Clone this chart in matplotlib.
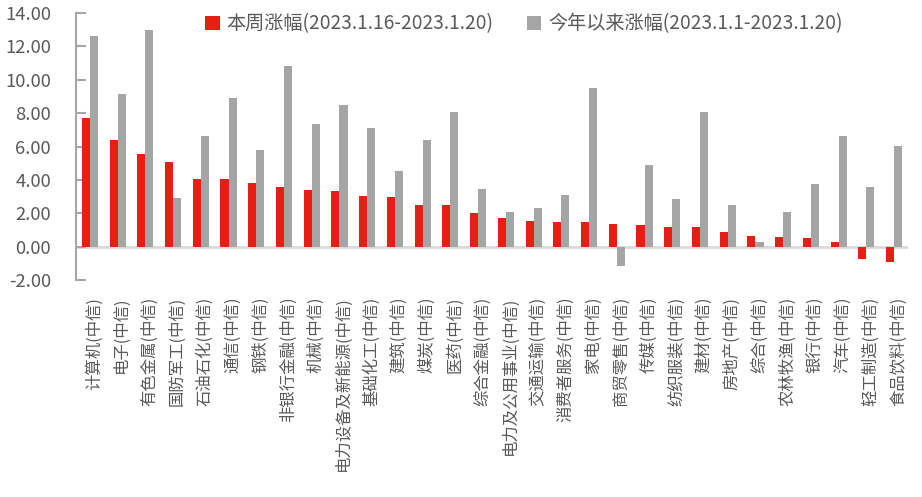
import matplotlib
matplotlib.use("Agg")
import matplotlib.pyplot as plt
import matplotlib.transforms as mtransforms
import numpy as np

plt.rcParams['font.family'] = ['Noto Sans CJK SC', 'DejaVu Sans']

categories = ["计算机(中信)", "电子(中信)", "有色金属(中信)", "国防军工(中信)", "石油石化(中信)",
              "通信(中信)", "钢铁(中信)", "非银行金融(中信)", "机械(中信)", "电力设备及新能源(中信)",
              "基础化工(中信)", "建筑(中信)", "煤炭(中信)", "医药(中信)", "综合金融(中信)",
              "电力及公用事业(中信)", "交通运输(中信)", "消费者服务(中信)", "家电(中信)", "商贸零售(中信)",
              "传媒(中信)", "纺织服装(中信)", "建材(中信)", "房地产(中信)", "综合(中信)",
              "农林牧渔(中信)", "银行(中信)", "汽车(中信)", "轻工制造(中信)", "食品饮料(中信)"]

week_change = [7.73, 6.40, 5.55, 5.07, 4.04, 4.04, 3.80, 3.56, 3.38, 3.32,
               3.02, 2.96, 2.47, 2.47, 1.99, 1.69, 1.51, 1.45, 1.45, 1.33,
               1.27, 1.15, 1.15, 0.85, 0.66, 0.60, 0.54, 0.28, -0.74, -0.92]

ytd_change = [12.62, 9.17, 12.98, 2.90, 6.64, 8.93, 5.79, 10.80, 7.36, 8.51,
              7.12, 4.53, 6.40, 8.09, 3.44, 2.05, 2.29, 3.08, 9.48, -1.17,
              4.89, 2.84, 8.09, 2.47, 0.30, 2.05, 3.74, 6.64, 3.56, 6.04]

series_names = ["本周涨幅(2023.1.16-2023.1.20)", "今年以来涨幅(2023.1.1-2023.1.20)"]
yticks = [-2, 0, 2, 4, 6, 8, 10, 12, 14]

red = "#E61E14"
gray = "#A5A5A5"
textc = "#595959"

fig = plt.figure(figsize=(9.22, 4.97), dpi=100)
ax = fig.add_axes([76/922, 1-280/497, (908-76)/922, (280-13)/497])

x = np.arange(len(categories))
w = 0.29
b1 = ax.bar(x - w/2, week_change, width=w, color=red, label=series_names[0], zorder=2)
b2 = ax.bar(x + w/2, ytd_change, width=w, color=gray, label=series_names[1], zorder=2)

ax.set_xlim(-0.5, len(categories) - 0.5)
ax.set_ylim(-2, 14)
ax.set_yticks(yticks)
ax.set_yticklabels([f"{v:.2f}" for v in yticks], fontsize=13.3, color=textc)
ax.axhline(0, color="#D9D9D9", lw=2, zorder=1)

for s in ["top", "right", "bottom"]:
    ax.spines[s].set_visible(False)
ax.spines["left"].set_color("#A6A6A6")
ax.spines["left"].set_linewidth(1.5)
ax.tick_params(axis="y", direction="in", length=7, width=1.5, color="#A6A6A6", pad=18)

ax.set_xticks(x)
ax.set_xticklabels(categories, rotation=90, fontsize=11.8, color=textc, va="top", ha="center")
ax.tick_params(axis="x", length=0, pad=12)
offset = mtransforms.ScaledTranslation(4/100, 0, fig.dpi_scale_trans)
for lab in ax.get_xticklabels():
    lab.set_transform(lab.get_transform() + offset)

leg = fig.legend(handles=[b1, b2], loc="upper left", bbox_to_anchor=(188/922, 1.008),
                 ncol=2, frameon=False, fontsize=13.8, handlelength=0.75, handleheight=0.75,
                 columnspacing=1.75, handletextpad=0.35, labelcolor=textc)

fig.savefig("out.png", dpi=100)
